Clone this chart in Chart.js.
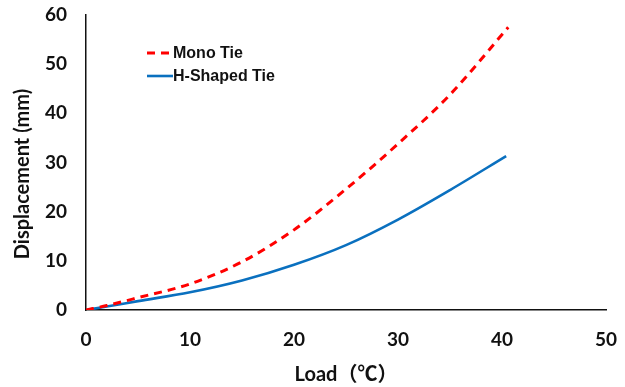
<!DOCTYPE html>
<html>
<head>
<meta charset="utf-8">
<script src="https://cdn.jsdelivr.net/npm/chart.js@4/dist/chart.umd.min.js"></script>
<style>
  html, body { margin: 0; padding: 0; background: #fff; }
  #wrap { width: 625px; height: 387px; }
</style>
</head>
<body>
<div id="wrap"><canvas id="dispChart" width="625" height="387"></canvas></div>
<script>
// values
var monoLoad = [0, 2, 5, 10, 15, 20, 25, 30, 35, 40.6];
var monoDisp = [0, 0.9, 2.5, 5.3, 9.8, 16.3, 24.6, 33.8, 43.8, 57.5];
var hLoad = [0, 2, 5, 10, 15, 20, 25, 30, 35, 40.4];
var hDisp = [0, 0.7, 1.8, 3.6, 6.0, 9.2, 13.2, 18.4, 24.4, 31.3];
var xTicks = [0, 10, 20, 30, 40, 50];
var yTicks = [0, 10, 20, 30, 40, 50, 60];
var yTitle = 'Displacement (mm)';
var xTitle = 'Load（℃）';

function pairs(xs, ys) {
    return xs.map(function (x, i) { return { x: x, y: ys[i] }; });
}

// legend inside the plot + y title sitting a bit below centre, as in the original
var extras = {
    id: 'extras',
    afterDraw: function (chart) {
        var ctx = chart.ctx;
        var left = 147, top = 53, rowH = 23;
        ctx.save();
        ctx.font = 'bold 16px "Liberation Sans", Arial, sans-serif';
        ctx.textBaseline = 'middle';
        chart.data.datasets.forEach(function (ds, i) {
            var y = top + i * rowH;
            ctx.strokeStyle = ds.borderColor;
            ctx.lineWidth = ds.borderWidth;
            ctx.setLineDash(ds.borderDash || []);
            ctx.beginPath();
            ctx.moveTo(left, y);
            ctx.lineTo(left + 26, y);
            ctx.stroke();
            ctx.setLineDash([]);
            ctx.fillStyle = '#111';
            ctx.fillText(ds.label, left + 26, y + 1);
        });
        ctx.translate(23, 174);
        ctx.rotate(-Math.PI / 2);
        ctx.font = 'bold 20px Lato, "Open Sans", sans-serif';
        ctx.textAlign = 'center';
        ctx.fillText(yTitle, 0, 0);
        ctx.restore();
    }
};

var tickFont = { family: 'Lato, "Open Sans", sans-serif', size: 19, weight: 'bold' };
var titleFont = { family: 'Lato, "Noto Sans CJK JP", sans-serif', size: 20, weight: 'bold' };

new Chart(document.getElementById('dispChart').getContext('2d'), {
    type: 'line',
    data: {
        datasets: [{
            label: 'Mono Tie',
            data: pairs(monoLoad, monoDisp),
            borderColor: '#FF0000',
            borderWidth: 3,
            borderDash: [8, 6],
            pointRadius: 0,
            cubicInterpolationMode: 'monotone',
            fill: false
        }, {
            label: 'H-Shaped Tie',
            data: pairs(hLoad, hDisp),
            borderColor: '#0A70BF',
            borderWidth: 2.6,
            pointRadius: 0,
            cubicInterpolationMode: 'monotone',
            fill: false
        }]
    },
    options: {
        responsive: false,
        animation: false,
        layout: { padding: { left: 11, right: 19, top: 15, bottom: 0 } },
        plugins: {
            legend: { display: false },
            tooltip: { enabled: false }
        },
        scales: {
            x: {
                type: 'linear',
                min: 0,
                max: 50,
                afterBuildTicks: function (s) { s.ticks = xTicks.map(function (v) { return { value: v }; }); },
                afterFit: function (s) { s.height = 77; s.paddingLeft = 0; s.paddingRight = 0; },
                grid: { display: false, drawTicks: true, tickLength: 6, tickColor: '#111' },
                border: { display: true, color: '#111', width: 1.5 },
                ticks: { color: '#111', font: tickFont, padding: 12, maxRotation: 0 },
                title: { display: true, text: xTitle, color: '#111', font: titleFont, padding: { top: 0, bottom: 0 } }
            },
            y: {
                min: 0,
                max: 60,
                afterBuildTicks: function (s) { s.ticks = yTicks.map(function (v) { return { value: v }; }); },
                afterFit: function (s) { s.width = 75; s.paddingTop = 0; s.paddingBottom = 0; },
                grid: { display: false, drawTicks: true, tickLength: 7, tickColor: '#111' },
                border: { display: true, color: '#111', width: 1.5 },
                ticks: { color: '#111', font: tickFont, padding: 12 },
                title: { display: true, text: ' ', color: '#fff', font: titleFont, padding: { top: 0, bottom: 4 } }
            }
        }
    },
    plugins: [extras]
});
</script>
</body>
</html>
